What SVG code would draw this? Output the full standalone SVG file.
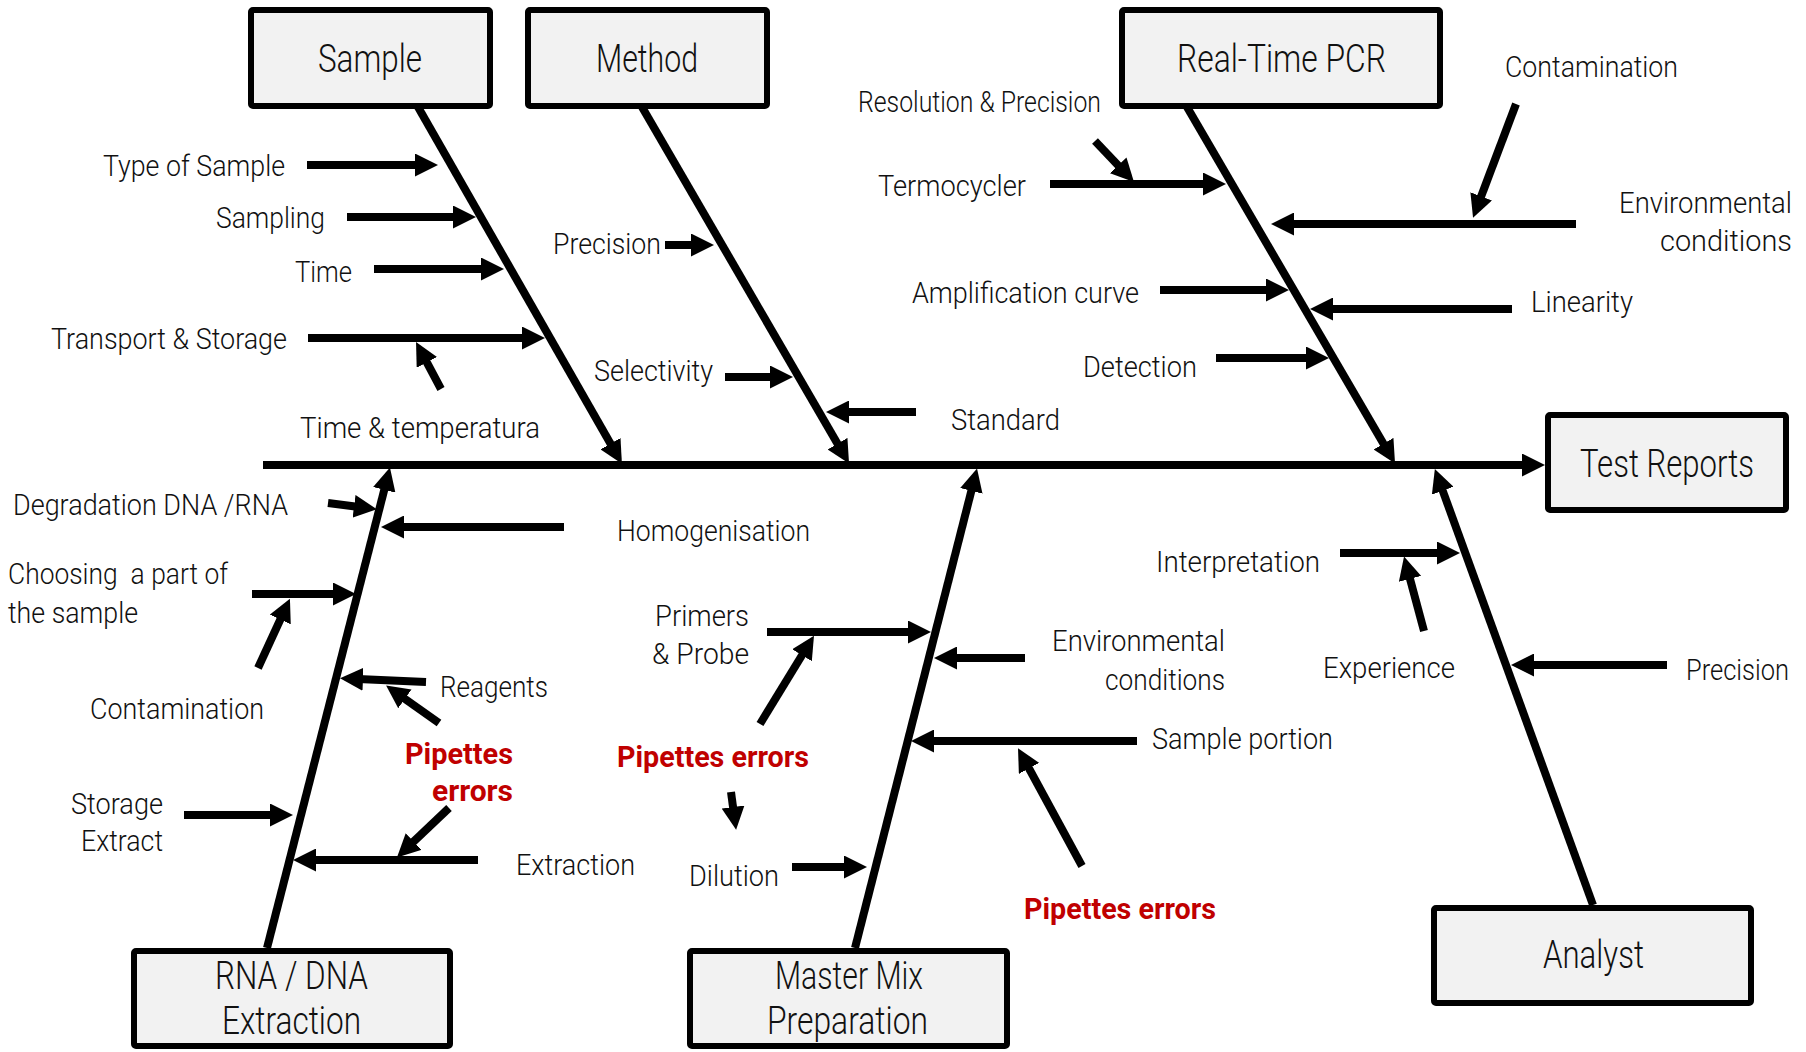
<svg xmlns="http://www.w3.org/2000/svg" width="1806" height="1052" viewBox="0 0 1806 1052">
  <style>
    .box { fill: #f2f2f2; stroke: #000; stroke-width: 6; }
    .title { font-family: Roboto, "Open Sans", "Liberation Sans", sans-serif; font-weight: 300; font-size: 39px; fill: #111; }
    .lbl { font-family: Roboto, "Open Sans", "Liberation Sans", sans-serif; font-weight: 300; font-size: 30px; fill: #111; }
    .err { font-family: Roboto, "Open Sans", "Liberation Sans", sans-serif; font-weight: 700; font-size: 30px; fill: #c00000; }
    .bone { stroke: #000; stroke-width: 8; fill: none; marker-end: url(#ah); }
    .arr { stroke: #000; stroke-width: 8; fill: none; marker-end: url(#ah); }
  </style>
  <defs>
    <marker id="ah" viewBox="0 0 23 23" refX="5" refY="11.5" markerWidth="23" markerHeight="23" markerUnits="userSpaceOnUse" orient="auto">
      <path d="M0,0 L23,11.5 L0,23 z" fill="#000"/>
    </marker>
  </defs>
  <rect width="1806" height="1052" fill="#fff"/>

  <!-- spine, main bones and cause arrows -->
  <g id="connectors">
    <line class="bone" x1="263" y1="465" x2="1527" y2="465"/>
    <line class="bone" x1="418" y1="107" x2="613" y2="448"/>
    <line class="bone" x1="642" y1="107" x2="840" y2="448"/>
    <line class="bone" x1="1187" y1="107" x2="1386" y2="448"/>
    <line class="bone" x1="267" y1="948" x2="385.5" y2="485"/>
    <line class="bone" x1="855" y1="948" x2="972.6" y2="486"/>
    <line class="bone" x1="1593" y1="905" x2="1441" y2="486"/>

    <!-- Sample causes -->
    <line class="arr" x1="307" y1="165" x2="420" y2="165"/>
    <line class="arr" x1="347" y1="217" x2="458" y2="217"/>
    <line class="arr" x1="374" y1="269" x2="486" y2="269"/>
    <line class="arr" x1="308" y1="338" x2="527" y2="338"/>
    <line class="arr" x1="441" y1="389" x2="424.5" y2="358"/>

    <!-- Method causes -->
    <line class="arr" x1="665" y1="245" x2="696" y2="245"/>
    <line class="arr" x1="725" y1="377" x2="775" y2="377"/>
    <line class="arr" x1="916" y1="412" x2="844" y2="412"/>

    <!-- Real-Time PCR causes -->
    <line class="arr" x1="1095" y1="141" x2="1121.6" y2="169"/>
    <line class="arr" x1="1050" y1="184" x2="1208" y2="184"/>
    <line class="arr" x1="1516" y1="104" x2="1479.4" y2="201"/>
    <line class="arr" x1="1576" y1="224" x2="1289" y2="224"/>
    <line class="arr" x1="1160" y1="290" x2="1271" y2="290"/>
    <line class="arr" x1="1512" y1="309" x2="1328" y2="309"/>
    <line class="arr" x1="1216" y1="358" x2="1311" y2="358"/>

    <!-- RNA / DNA extraction causes -->
    <line class="arr" x1="328" y1="503" x2="359" y2="507"/>
    <line class="arr" x1="564" y1="527" x2="399" y2="527"/>
    <line class="arr" x1="252" y1="594" x2="338" y2="594"/>
    <line class="arr" x1="258" y1="668" x2="282.4" y2="615"/>
    <line class="arr" x1="426" y1="682" x2="358" y2="679"/>
    <line class="arr" x1="439" y1="723" x2="400.8" y2="696"/>
    <line class="arr" x1="184" y1="815" x2="275" y2="815"/>
    <line class="arr" x1="478" y1="860" x2="311" y2="860"/>
    <line class="arr" x1="449" y1="808" x2="410" y2="845"/>

    <!-- Master mix causes -->
    <line class="arr" x1="767" y1="632" x2="913" y2="632"/>
    <line class="arr" x1="760" y1="724" x2="804.6" y2="651"/>
    <line class="arr" x1="731" y1="792" x2="733.7" y2="812"/>
    <line class="arr" x1="792" y1="867" x2="849" y2="867"/>
    <line class="arr" x1="1025" y1="658" x2="952" y2="658"/>
    <line class="arr" x1="1137" y1="741" x2="929" y2="741"/>
    <line class="arr" x1="1082" y1="866" x2="1026.6" y2="764"/>

    <!-- Analyst causes -->
    <line class="arr" x1="1340" y1="553" x2="1442" y2="553"/>
    <line class="arr" x1="1424" y1="631" x2="1408.7" y2="574"/>
    <line class="arr" x1="1667" y1="665" x2="1529" y2="665"/>
  </g>

  <!-- category boxes -->
  <g id="node-sample">
    <rect class="box" x="251" y="10" width="239" height="96" rx="2"/>
    <text class="title" x="318" y="72" textLength="104" lengthAdjust="spacingAndGlyphs">Sample</text>
  </g>
  <g id="node-method">
    <rect class="box" x="528" y="10" width="239" height="96" rx="2"/>
    <text class="title" x="596" y="72" textLength="102" lengthAdjust="spacingAndGlyphs">Method</text>
  </g>
  <g id="node-realtime-pcr">
    <rect class="box" x="1122" y="10" width="318" height="96" rx="2"/>
    <text class="title" x="1177" y="72" textLength="209" lengthAdjust="spacingAndGlyphs">Real-Time PCR</text>
  </g>
  <g id="node-test-reports">
    <rect class="box" x="1548" y="415" width="238" height="95" rx="2"/>
    <text class="title" x="1580" y="477" textLength="174" lengthAdjust="spacingAndGlyphs">Test Reports</text>
  </g>
  <g id="node-extraction">
    <rect class="box" x="134" y="951" width="316" height="95" rx="2"/>
    <text class="title" x="215" y="989" textLength="153" lengthAdjust="spacingAndGlyphs">RNA / DNA</text>
    <text class="title" x="222" y="1034" textLength="139" lengthAdjust="spacingAndGlyphs">Extraction</text>
  </g>
  <g id="node-master-mix">
    <rect class="box" x="690" y="951" width="317" height="95" rx="2"/>
    <text class="title" x="775" y="989" textLength="148" lengthAdjust="spacingAndGlyphs">Master Mix</text>
    <text class="title" x="767" y="1034" textLength="161" lengthAdjust="spacingAndGlyphs">Preparation</text>
  </g>
  <g id="node-analyst">
    <rect class="box" x="1434" y="908" width="317" height="95" rx="2"/>
    <text class="title" x="1543" y="968" textLength="101" lengthAdjust="spacingAndGlyphs">Analyst</text>
  </g>

  <!-- cause labels -->
  <g id="causes">
    <text class="lbl" x="103" y="176" textLength="182" lengthAdjust="spacingAndGlyphs">Type of Sample</text>
    <text class="lbl" x="216" y="228" textLength="109" lengthAdjust="spacingAndGlyphs">Sampling</text>
    <text class="lbl" x="295" y="282" textLength="57" lengthAdjust="spacingAndGlyphs">Time</text>
    <text class="lbl" x="51" y="349" textLength="236" lengthAdjust="spacingAndGlyphs">Transport &amp; Storage</text>
    <text class="lbl" x="300" y="438" textLength="240" lengthAdjust="spacingAndGlyphs">Time &amp; temperatura</text>

    <text class="lbl" x="553" y="254" textLength="108" lengthAdjust="spacingAndGlyphs">Precision</text>
    <text class="lbl" x="594" y="381" textLength="119" lengthAdjust="spacingAndGlyphs">Selectivity</text>
    <text class="lbl" x="951" y="430" textLength="109" lengthAdjust="spacingAndGlyphs">Standard</text>

    <text class="lbl" x="858" y="112" textLength="243" lengthAdjust="spacingAndGlyphs">Resolution &amp; Precision</text>
    <text class="lbl" x="878" y="196" textLength="148" lengthAdjust="spacingAndGlyphs">Termocycler</text>
    <text class="lbl" x="1505" y="77" textLength="173" lengthAdjust="spacingAndGlyphs">Contamination</text>
    <text class="lbl" x="1619" y="213" textLength="173" lengthAdjust="spacingAndGlyphs">Environmental</text>
    <text class="lbl" x="1660" y="251" textLength="132" lengthAdjust="spacingAndGlyphs">conditions</text>
    <text class="lbl" x="912" y="303" textLength="227" lengthAdjust="spacingAndGlyphs">Amplification curve</text>
    <text class="lbl" x="1531" y="312" textLength="102" lengthAdjust="spacingAndGlyphs">Linearity</text>
    <text class="lbl" x="1083" y="377" textLength="114" lengthAdjust="spacingAndGlyphs">Detection</text>

    <text class="lbl" x="13" y="515" textLength="275" lengthAdjust="spacingAndGlyphs">Degradation DNA /RNA</text>
    <text class="lbl" x="617" y="541" textLength="193" lengthAdjust="spacingAndGlyphs">Homogenisation</text>
    <text class="lbl" x="8" y="584" textLength="220" lengthAdjust="spacingAndGlyphs" xml:space="preserve">Choosing  a part of</text>
    <text class="lbl" x="8" y="623" textLength="130" lengthAdjust="spacingAndGlyphs">the sample</text>
    <text class="lbl" x="90" y="719" textLength="174" lengthAdjust="spacingAndGlyphs">Contamination</text>
    <text class="lbl" x="440" y="697" textLength="108" lengthAdjust="spacingAndGlyphs">Reagents</text>
    <text class="lbl" x="71" y="814" textLength="92" lengthAdjust="spacingAndGlyphs">Storage</text>
    <text class="lbl" x="81" y="851" textLength="82" lengthAdjust="spacingAndGlyphs">Extract</text>
    <text class="lbl" x="516" y="875" textLength="119" lengthAdjust="spacingAndGlyphs">Extraction</text>
    <text class="err" x="405" y="764" textLength="108" lengthAdjust="spacingAndGlyphs">Pipettes</text>
    <text class="err" x="432" y="801" textLength="81" lengthAdjust="spacingAndGlyphs">errors</text>

    <text class="lbl" x="655" y="626" textLength="94" lengthAdjust="spacingAndGlyphs">Primers</text>
    <text class="lbl" x="652" y="664" textLength="97" lengthAdjust="spacingAndGlyphs">&amp; Probe</text>
    <text class="err" x="617" y="767" textLength="192" lengthAdjust="spacingAndGlyphs">Pipettes errors</text>
    <text class="lbl" x="689" y="886" textLength="90" lengthAdjust="spacingAndGlyphs">Dilution</text>
    <text class="lbl" x="1052" y="651" textLength="173" lengthAdjust="spacingAndGlyphs">Environmental</text>
    <text class="lbl" x="1105" y="690" textLength="120" lengthAdjust="spacingAndGlyphs">conditions</text>
    <text class="lbl" x="1152" y="749" textLength="181" lengthAdjust="spacingAndGlyphs">Sample portion</text>
    <text class="err" x="1024" y="919" textLength="192" lengthAdjust="spacingAndGlyphs">Pipettes errors</text>

    <text class="lbl" x="1156" y="572" textLength="164" lengthAdjust="spacingAndGlyphs">Interpretation</text>
    <text class="lbl" x="1323" y="678" textLength="132" lengthAdjust="spacingAndGlyphs">Experience</text>
    <text class="lbl" x="1686" y="680" textLength="103" lengthAdjust="spacingAndGlyphs">Precision</text>
  </g>
</svg>
